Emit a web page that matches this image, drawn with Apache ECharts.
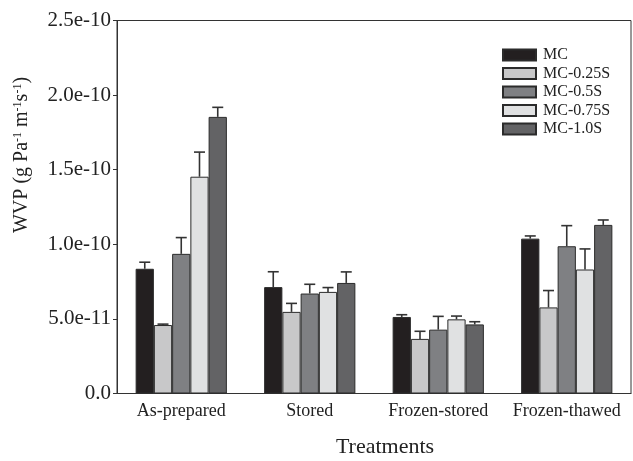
<!DOCTYPE html>
<html>
<head>
<meta charset="utf-8">
<script src="https://cdn.jsdelivr.net/npm/echarts@6/dist/echarts.min.js"></script>
<style>html,body{margin:0;padding:0;background:#fff;}#c{width:633px;height:461px;}</style>
</head>
<body>
<div id="c"></div>
<script>
// ---- data ----
var categories = ['As-prepared', 'Stored', 'Frozen-stored', 'Frozen-thawed'];
var seriesNames = ['MC', 'MC-0.25S', 'MC-0.5S', 'MC-0.75S', 'MC-1.0S'];
var mcValues   = [8.36e-11, 7.13e-11, 5.13e-11, 1.038e-10];
var s025Values = [4.59e-11, 5.47e-11, 3.66e-11, 5.77e-11];
var s05Values  = [9.36e-11, 6.70e-11, 4.28e-11, 9.87e-11];
var s075Values = [1.453e-10, 6.81e-11, 4.97e-11, 8.31e-11];
var s10Values  = [1.854e-10, 7.41e-11, 4.63e-11, 1.130e-10];
var mcErr   = [4.4e-12, 1.03e-11, 1.5e-12, 1.8e-12];
var s025Err = [6e-13, 5.7e-12, 5.1e-12, 1.13e-11];
var s05Err  = [1.09e-11, 6.2e-12, 8.9e-12, 1.38e-11];
var s075Err = [1.65e-11, 2.9e-12, 2.2e-12, 1.38e-11];
var s10Err  = [6.4e-12, 7.4e-12, 1.8e-12, 3.3e-12];
var yTickLabels = ['0.0', '5.0e-11', '1.0e-10', '1.5e-10', '2.0e-10', '2.5e-10'];

var allValues = [mcValues, s025Values, s05Values, s075Values, s10Values];
var allErrs = [mcErr, s025Err, s05Err, s075Err, s10Err];
var colors = ['#231f20', '#c8c8c9', '#7f8083', '#e0e1e2', '#636365'];
var serif = "'Liberation Serif','DejaVu Serif',serif";
var catGap = 0.29;

var series = [];
allValues.forEach(function (vals, i) {
  series.push({
    name: seriesNames[i], type: 'bar', data: vals,
    barGap: '0%', barCategoryGap: (catGap * 100) + '%',
    itemStyle: { color: colors[i], borderColor: '#2b2b2b', borderWidth: 1 }
  });
});
var errData = [];
allValues.forEach(function (vals, i) {
  vals.forEach(function (v, c) { errData.push([c, i, v, allErrs[i][c]]); });
});
series.push({
  type: 'custom', data: errData, z: 10, silent: true,
  renderItem: function (params, api) {
    var c = api.value(0), i = api.value(1), v = api.value(2), e = api.value(3);
    var center = api.coord([c, v]);
    var top = api.coord([c, v + e]);
    var band = api.size([1, 0])[0];
    var gw = band * (1 - catGap);
    var bw = gw / seriesNames.length;
    var x = center[0] - gw / 2 + bw * (i + 0.5);
    var style = { stroke: '#333', lineWidth: 1.6 };
    return { type: 'group', children: [
      { type: 'line', shape: { x1: x, y1: center[1], x2: x, y2: top[1] }, style: style },
      { type: 'line', shape: { x1: x - 5.5, y1: top[1], x2: x + 5.5, y2: top[1] }, style: style }
    ]};
  }
});

var chart = echarts.init(document.getElementById('c'));
chart.setOption({
  animation: false,
  backgroundColor: '#fff',
  textStyle: { fontFamily: serif, color: '#222' },
  grid: { left: 117, right: 2, top: 20.5, bottom: 67.5, show: true, borderColor: '#333', borderWidth: 1 },
  legend: {
    data: seriesNames, orient: 'vertical', left: 497, top: 42, itemWidth: 33, itemHeight: 11, itemGap: 2.5,
    icon: 'rect', textStyle: { fontFamily: serif, fontSize: 16, color: '#222', padding: [0, 0, 0, 2] }
  },
  xAxis: {
    type: 'category', data: categories,
    axisLine: { lineStyle: { color: '#333', width: 1 } },
    axisTick: { show: false },
    axisLabel: { interval: 0, fontFamily: serif, fontSize: 18, color: '#222', margin: 9 }
  },
  yAxis: {
    type: 'value', min: 0, max: 2.5e-10, interval: 5e-11,
    axisLine: { show: true, lineStyle: { color: '#333', width: 1 } },
    axisTick: { show: true, length: 4, lineStyle: { color: '#333' } },
    splitLine: { show: false },
    axisLabel: {
      fontFamily: serif, fontSize: 21, color: '#222', margin: 6,
      formatter: function (v) { return yTickLabels[Math.round(v / 5e-11)]; }
    }
  },
  graphic: [
    { type: 'text', x: 22, y: 155, rotation: Math.PI / 2,
      style: { text: 'WVP (g Pa{sup|-1} m{sup|-1}s{sup|-1})', font: '20px ' + serif, fill: '#222',
        align: 'center', verticalAlign: 'middle',
        rich: { sup: { fontSize: 12, fontFamily: serif, verticalAlign: 'top', lineHeight: 12, fill: '#222', padding: [0, 0, 0, 0] } } } },
    { type: 'text', x: 385, y: 447,
      style: { text: 'Treatments', font: '22px ' + serif, fill: '#222', align: 'center', verticalAlign: 'middle' } }
  ],
  series: series
});
</script>
</body>
</html>
